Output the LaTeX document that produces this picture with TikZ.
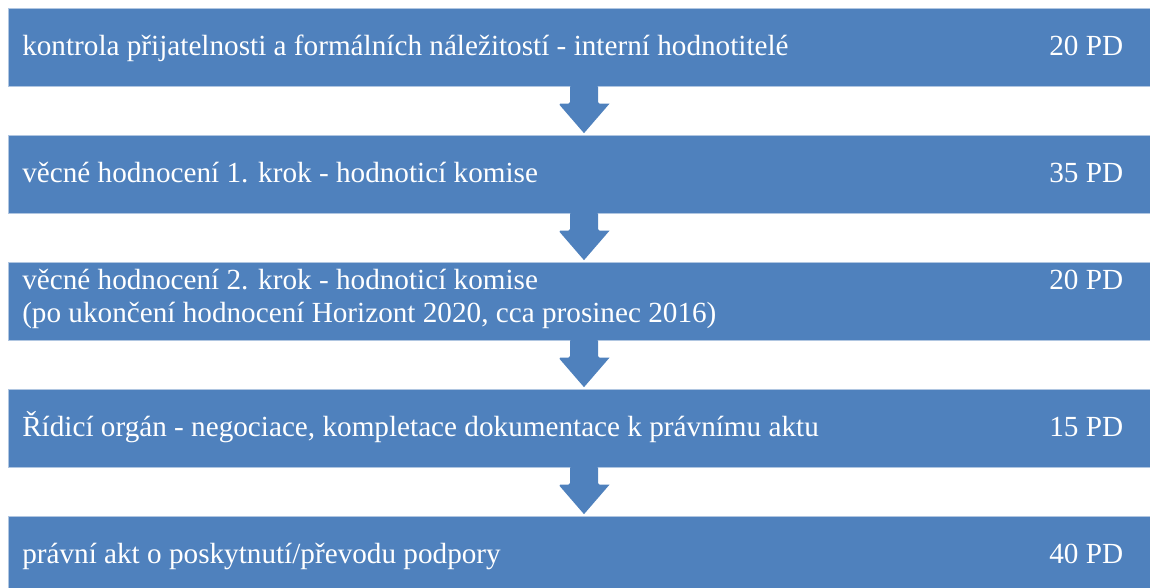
\documentclass[tikz,border=0pt]{standalone}
\usepackage{fontspec}
\setmainfont{Liberation Serif}
\usepackage{xcolor}
\usetikzlibrary{positioning,calc}
\definecolor{barblue}{HTML}{4F81BD}

\begin{document}
\begin{tikzpicture}[x=0.75pt,y=-0.75pt,
    bar/.style={fill=barblue, draw=barblue!45!white, line width=0.5pt, minimum width=864pt, minimum height=58.5pt, inner sep=0pt},
    txt/.style={text=white, inner sep=0pt, font=\fontsize{21.9}{24.75}\selectfont, align=left},
    arr/.style={fill=barblue, rounded corners=1.2pt}]
        \useasboundingbox (0,0) rectangle (1150,587);
        \node[bar] (b1) at (584,47) {};
        \node[bar] (b2) at (584,174) {};
        \node[bar] (b3) at (584,301) {};
        \node[bar] (b4) at (584,428) {};
        \node[bar] (b5) at (584,555) {};

        \foreach \a/\b in {b1/b2,b2/b3,b3/b4,b4/b5}
            \fill[arr] ($(\a.south)+(-14,-1)$) -- ($(\b.north)+(-14,-31)$) -- ($(\b.north)+(-25.5,-31)$)
                [sharp corners] -- ($(\b.north)+(0,-1.5)$) -- ($(\b.north)+(25.5,-31)$)
                [rounded corners=1.2pt] -- ($(\b.north)+(14,-31)$) -- ($(\a.south)+(14,-1)$) -- cycle;

        \node[txt, anchor=base west] (t1) at (22,55) {kontrola přijatelnosti a formálních náležitostí - interní hodnotitelé};
        \node[txt, anchor=base west] (d1) at (1049,55) {20 PD};
        \node[txt, anchor=base west] (t2) at (22,182) {věcné hodnocení 1. krok - hodnoticí komise};
        \node[txt, anchor=base west] (d2) at (1049,182) {35 PD};
        \node[txt, anchor=base west] (t3) at (22,322) {věcné hodnocení 2. krok - hodnoticí komise\\(po ukončení hodnocení Horizont 2020, cca prosinec 2016)};
        \node[txt, anchor=base west] (d3) at (1049,289) {20 PD};
        \node[txt, anchor=base west] (t4) at (22,436) {Řídicí orgán - negociace, kompletace dokumentace k právnímu aktu};
        \node[txt, anchor=base west] (d4) at (1049,436) {15 PD};
        \node[txt, anchor=base west] (t5) at (22,563) {právní akt o poskytnutí/převodu podpory};
        \node[txt, anchor=base west] (d5) at (1049,563) {40 PD};
    \end{tikzpicture}
\end{document}
